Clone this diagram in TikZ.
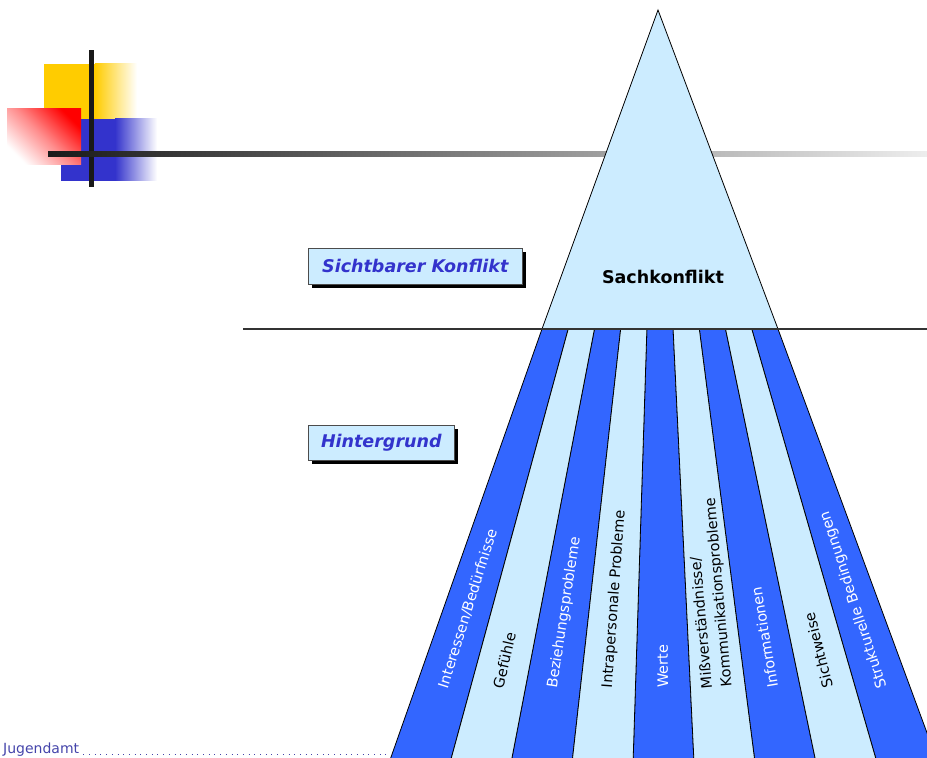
\documentclass[tikz,border=0pt]{standalone}
\usepackage{fontspec}
\setmainfont{DejaVu Sans}
\usepackage{tikz}
\usetikzlibrary{shapes, calc, positioning, shadows}

\definecolor{hellblau}{HTML}{CCECFF}
\definecolor{dunkelblau}{HTML}{3366FF}
\definecolor{titelblau}{HTML}{3333CC}
\definecolor{logogelb}{HTML}{FFCC00}
\definecolor{fussblau}{HTML}{4444AA}

\begin{document}
\begin{tikzpicture}[x=1pt,y=1pt,
	titlebox/.style={draw=black!70, line width=0.6pt, fill=hellblau, anchor=west, inner sep=0pt, text=titelblau,
		font=\fontsize{17.5}{20}\selectfont\bfseries\itshape,
		drop shadow={shadow xshift=4pt, shadow yshift=-4pt, fill=black, opacity=1}},
	lbl/.style={anchor=west, inner sep=0pt, font=\fontsize{14.5}{19.5}\selectfont}]
	\tikzset{dark/.style={fill=dunkelblau, draw=black, line width=0.8pt}, light/.style={fill=hellblau, draw=black, line width=0.8pt}}
	\useasboundingbox (0,0) rectangle (927,758);

	% logo
	\fill[logogelb] (44,639) rectangle (95,694);
	\shade[left color=logogelb, right color=white] (95,639) rectangle (137,694);
	\fill[titelblau] (61,577) rectangle (115,639);
	\shade[left color=titelblau, right color=white] (115,577) rectangle (157,639);
	\shade[top color=red, bottom color=white, middle color=red!45, shading angle=-45] (7,593) rectangle (81,649);
	\fill[black!90] (89,571) rectangle (94,708);
	\shade[left color=black!90, right color=black!7] (48,601) rectangle (927,606);

	% Eisberg
	\foreach \i in {0,...,9} {
		\coordinate (t\i) at ({542+26.22*\i},429);
		\coordinate (b\i) at ({390+60.78*\i},-2);
	}
	\foreach \i [evaluate=\i as \j using int(\i+1)] in {0,...,8} {
		\coordinate (m\i) at ($(t\i)!.5!(t\j)$);
		\coordinate (n\i) at ($(b\i)!.5!(b\j)$);
	}
	\begin{scope}
		\clip (0,0) rectangle (927,758);
		\foreach \i [evaluate=\i as \j using int(\i+1)] in {0,2,4,6,8}
			\filldraw[dark] (t\i) -- (t\j) -- (b\j) -- (b\i) -- cycle;
		\foreach \i [evaluate=\i as \j using int(\i+1)] in {1,3,5,7}
			\filldraw[light] (t\i) -- (t\j) -- (b\j) -- (b\i) -- cycle;
	\end{scope}
	\filldraw[light] (658,748) -- (t9) -- (t0) -- cycle;
	\draw[black!80, line width=1.3pt] (243,429) -- (927,429);

	\node[font=\fontsize{17.5}{20}\selectfont\bfseries] (sach) at (663,481) {Sachkonflikt};
	\node[titlebox, minimum width=214pt, minimum height=36pt] (sicht) at (308,492) {Sichtbarer Konflikt};
	\node[titlebox, minimum width=146pt, minimum height=35pt] (hinter) at (308,315.5) {Hintergrund};

	% Streifen
	\node[lbl, text=white, rotate=72.6] (l0) at ($(n0)!.167!(m0)$) {Interessen/Bedürfnisse};
	\node[lbl, rotate=76.9] (l1) at ($(n1)!.167!(m1)$) {Gefühle};
	\node[lbl, text=white, rotate=81.3] (l2) at ($(n2)!.167!(m2)$) {Beziehungsprobleme};
	\node[lbl, rotate=85.9] (l3) at ($(n3)!.167!(m3)$) {Intrapersonale Probleme};
	\node[lbl, text=white, rotate=90.5] (l4) at ($(n4)!.167!(m4)$) {Werte};
	\node[lbl, rotate=95.1, align=left] (l5) at ($(n5)!.167!(m5)$) {Mißverständnisse/\\Kommunikationsprobleme};
	\node[lbl, text=white, rotate=99.6] (l6) at ($(n6)!.167!(m6)$) {Informationen};
	\node[lbl, rotate=104.1] (l7) at ($(n7)!.167!(m7)$) {Sichtweise};
	\node[lbl, text=white, rotate=108.3] (l8) at ($(n8)!.167!(m8)$) {Strukturelle Bedingungen};

	% Fusszeile
	\node[anchor=base west, inner sep=0pt, text=fussblau, font=\fontsize{14}{16}\selectfont] (fuss) at (3,4) {Jugendamt};
	\coordinate (fussende) at (388,4);
	\draw[fussblau, line width=0.9pt, dash pattern=on 0.9pt off 4.8pt, shorten <=4pt] (fuss.base east) -- (fussende);
\end{tikzpicture}
\end{document}
